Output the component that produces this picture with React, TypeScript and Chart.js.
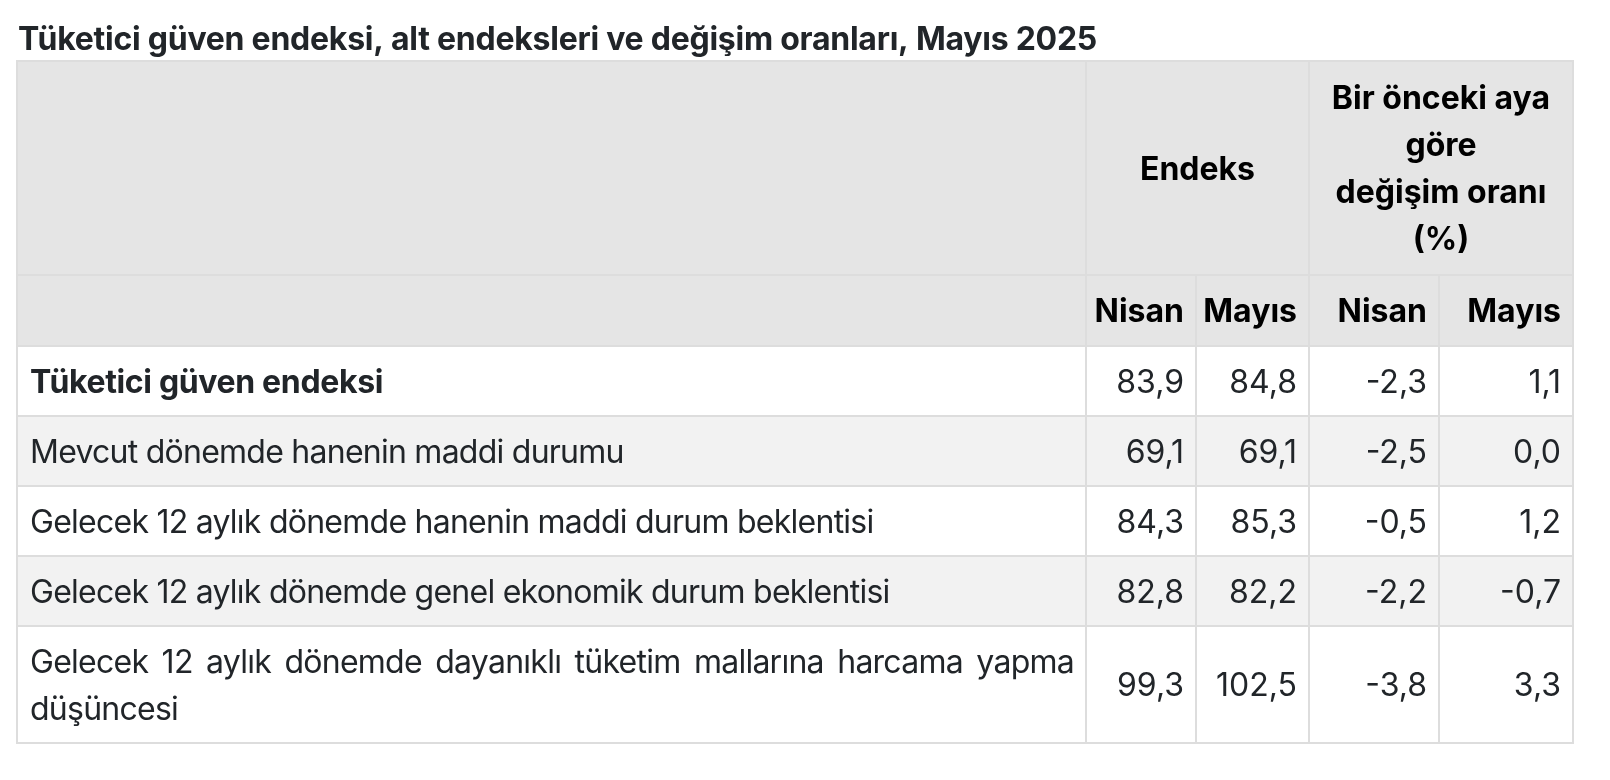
import React, { useEffect, useRef } from "react";
import { Chart, registerables } from "chart.js";

Chart.register(...registerables);

// ---------- data ----------
const title = "Tüketici güven endeksi, alt endeksleri ve değişim oranları, Mayıs 2025";
const groupHeaderIndex = ["Endeks"];
const groupHeaderChange = ["Bir önceki aya", "göre", "değişim oranı", "(%)"];
const months = ["Nisan", "Mayıs"];
const rowLabels = [
  "Tüketici güven endeksi",
  "Mevcut dönemde hanenin maddi durumu",
  "Gelecek 12 aylık dönemde hanenin maddi durum beklentisi",
  "Gelecek 12 aylık dönemde genel ekonomik durum beklentisi",
  "Gelecek 12 aylık dönemde dayanıklı tüketim mallarına harcama yapma düşüncesi",
];
const indexNisan = [83.9, 69.1, 84.3, 82.8, 99.3];
const indexMayis = [84.8, 69.1, 85.3, 82.2, 102.5];
const changeNisan = [-2.3, -2.5, -0.5, -2.2, -3.8];
const changeMayis = [1.1, 0.0, 1.2, -0.7, 3.3];

// ---------- layout / style ----------
const W = 1610;
const H = 780;
const FONT = "Inter, 'Noto Sans', sans-serif";
const FS = 32;
const LINE_H = 47;
const CAP = 0.727;
const PAD_X = 12;
const colEdges = [17, 1086, 1196, 1309, 1439, 1573];
const rowEdges = [61, 275, 346, 416, 486, 556, 626, 743];
const HEAD_BG = "#e5e5e5";
const STRIPE_BG = "#f2f2f2";
const BORDER = "#dddddd";
const TEXT = "#212529";
const HEAD_TEXT = "#000000";
const LS_TITLE = "-0.25px";
const LS_BOLD = "-0.35px";
const LS_REG = "-0.75px";

const fmt = (v: number) => v.toFixed(1).replace(".", ",");

function wrap(ctx: CanvasRenderingContext2D, text: string, maxW: number): string[][] {
  const words = text.split(" ");
  const lines: string[][] = [];
  let cur: string[] = [];
  for (const w of words) {
    const test = [...cur, w].join(" ");
    if (cur.length && ctx.measureText(test).width > maxW) {
      lines.push(cur);
      cur = [w];
    } else {
      cur.push(w);
    }
  }
  if (cur.length) lines.push(cur);
  return lines;
}

const tablePlugin = {
  id: "tablePlugin",
  afterDraw(chart: any) {
    const { ctx } = chart;
    const xs = chart.scales.x;
    const ys = chart.scales.y;
    const px = (v: number) => xs.getPixelForValue(v);
    const py = (v: number) => ys.getPixelForValue(v);
    const font = (w: number) => `${w} ${FS}px ${FONT}`;
    const baseFor = (center: number) => py(center) + (FS * CAP) / 2;
    const setLS = (v: string) => {
      try {
        (ctx as any).letterSpacing = v;
      } catch (e) {}
    };

    ctx.save();
    // title
    ctx.fillStyle = TEXT;
    ctx.font = font(700);
    setLS(LS_TITLE);
    ctx.textAlign = "left";
    ctx.textBaseline = "alphabetic";
    ctx.fillText(title, px(18), py(50));
    setLS("0px");

    // backgrounds
    ctx.fillStyle = HEAD_BG;
    ctx.fillRect(px(colEdges[0]), py(rowEdges[0]), px(colEdges[5]) - px(colEdges[0]), py(rowEdges[2]) - py(rowEdges[0]));
    rowLabels.forEach((_, i) => {
      ctx.fillStyle = i % 2 === 1 ? STRIPE_BG : "#ffffff";
      const t = rowEdges[i + 2];
      const b = rowEdges[i + 3];
      ctx.fillRect(px(colEdges[0]), py(t), px(colEdges[5]) - px(colEdges[0]), py(b) - py(t));
    });

    // header texts
    ctx.fillStyle = HEAD_TEXT;
    ctx.font = font(700);
    ctx.textAlign = "center";
    const hTop = rowEdges[0];
    const hBot = rowEdges[1];
    const drawCentredLines = (lines: string[], left: number, right: number) => {
      const cx = px((colEdges[left] + colEdges[right]) / 2);
      const total = lines.length * LINE_H;
      const start = (hTop + hBot) / 2 - total / 2;
      lines.forEach((ln, k) => {
        ctx.fillText(ln, cx, baseFor(start + LINE_H * k + LINE_H / 2));
      });
    };
    drawCentredLines(groupHeaderIndex, 1, 3);
    drawCentredLines(groupHeaderChange, 3, 5);

    ctx.textAlign = "right";
    const subC = (rowEdges[1] + rowEdges[2]) / 2;
    [1, 2, 3, 4].forEach((c, k) => {
      ctx.fillText(months[k % 2], px(colEdges[c + 1] - PAD_X), baseFor(subC));
    });

    // body
    const cols = [indexNisan, indexMayis, changeNisan, changeMayis];
    rowLabels.forEach((label, i) => {
      const t = rowEdges[i + 2];
      const b = rowEdges[i + 3];
      const c = (t + b) / 2;
      ctx.fillStyle = TEXT;
      ctx.font = font(i === 0 ? 700 : 400);
      setLS(i === 0 ? LS_BOLD : LS_REG);
      ctx.textAlign = "left";
      const left = colEdges[0] + PAD_X + 1;
      const maxW = px(colEdges[1] - PAD_X) - px(left);
      const lines = wrap(ctx, label, maxW);
      const start = c - (lines.length * LINE_H) / 2;
      lines.forEach((words, k) => {
        const yb = baseFor(start + LINE_H * k + LINE_H / 2);
        if (k < lines.length - 1 && words.length > 1) {
          const wordsW = words.reduce((s, w) => s + ctx.measureText(w).width, 0);
          const gap = (maxW - wordsW) / (words.length - 1);
          let xx = px(left);
          words.forEach((w) => {
            ctx.fillText(w, xx, yb);
            xx += ctx.measureText(w).width + gap;
          });
        } else {
          ctx.fillText(words.join(" "), px(left), yb);
        }
      });
      setLS("0px");
      ctx.font = font(400);
      ctx.textAlign = "right";
      cols.forEach((arr, k) => {
        ctx.fillText(fmt(arr[i]), px(colEdges[k + 2] - PAD_X), baseFor(c));
      });
    });

    // borders
    ctx.strokeStyle = BORDER;
    ctx.lineWidth = 2;
    ctx.beginPath();
    rowEdges.forEach((r) => {
      ctx.moveTo(px(colEdges[0] - 1), py(r));
      ctx.lineTo(px(colEdges[5] + 1), py(r));
    });
    [0, 1, 3, 5].forEach((ci) => {
      ctx.moveTo(px(colEdges[ci]), py(rowEdges[0]));
      ctx.lineTo(px(colEdges[ci]), py(rowEdges[rowEdges.length - 1]));
    });
    [2, 4].forEach((ci) => {
      ctx.moveTo(px(colEdges[ci]), py(rowEdges[1]));
      ctx.lineTo(px(colEdges[ci]), py(rowEdges[rowEdges.length - 1]));
    });
    ctx.stroke();
    ctx.restore();
  },
};

export default function App() {
  const ref = useRef<HTMLCanvasElement | null>(null);
  useEffect(() => {
    if (!ref.current) return;
    const chart = new Chart(ref.current, {
      type: "scatter",
      data: { datasets: [{ data: [], pointRadius: 0 }] },
      options: {
        animation: false,
        responsive: false,
        devicePixelRatio: 1,
        layout: { padding: 0 },
        scales: {
          x: { type: "linear", min: 0, max: W, display: false },
          y: { type: "linear", min: 0, max: H, reverse: true, display: false },
        },
        plugins: { legend: { display: false }, tooltip: { enabled: false }, title: { display: false } },
        events: [],
      },
      plugins: [tablePlugin],
    });
    let alive = true;
    (document as any).fonts?.load?.(`700 ${FS}px Inter`).then(() => {
      if (alive) chart.draw();
    });
    return () => {
      alive = false;
      chart.destroy();
    };
  }, []);
  return (
    <div style={{ position: "absolute", left: 0, top: 0, width: W, height: H, background: "#fff" }}>
      <canvas ref={ref} width={W} height={H} style={{ width: W, height: H, display: "block" }} />
    </div>
  );
}
